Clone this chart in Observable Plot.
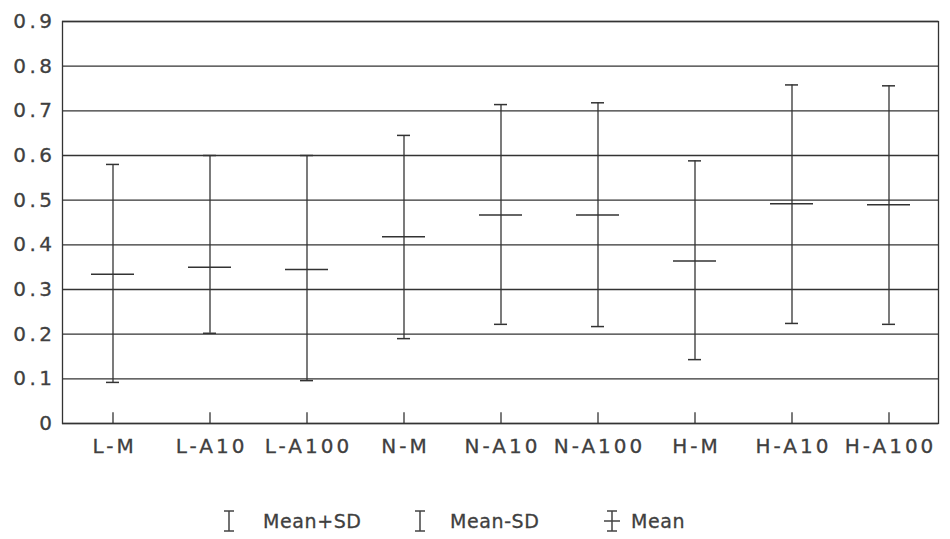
<!DOCTYPE html>
<html>
<head>
<meta charset="utf-8">
<script src="https://cdn.jsdelivr.net/npm/d3@7"></script>
<script src="https://cdn.jsdelivr.net/npm/@observablehq/plot@0.6"></script>
<style>
  body { margin: 0; background: #fff; }
  #wrap { position: relative; width: 950px; height: 539px; font-family: "DejaVu Sans", sans-serif; }
  #legend { position: absolute; left: 0; top: 505px; width: 950px; height: 32px; color: #404040; font-size: 19px; letter-spacing: 0.6px; -webkit-text-stroke: 0.3px #404040; }
  .item { position: absolute; top: 0; display: flex; align-items: center; height: 32px; }
  #chart svg text { stroke: #404040; stroke-width: 0.3px; }
  #chart g[aria-label="y-axis tick label"] { letter-spacing: 3.5px; }
  #chart g[aria-label="x-axis tick label"] { letter-spacing: 3px; }
</style>
</head>
<body>
<div id="wrap"><div id="chart"></div>
<div id="legend">
  <div class="item" style="left:222px"><svg width="14" height="26" style="margin-right:27px"><path d="M2,3H12M7,3V23M2,23H12" stroke="#444" stroke-width="1.5" fill="none"/></svg>Mean+SD</div>
  <div class="item" style="left:413px"><svg width="14" height="26" style="margin-right:23px"><path d="M2,3H12M7,3V23M2,23H12" stroke="#444" stroke-width="1.5" fill="none"/></svg>Mean-SD</div>
  <div class="item" style="left:603px"><svg width="18" height="26" style="margin-right:10px"><path d="M4,3H14M9,3V23M4,23H14M1,13H17" stroke="#444" stroke-width="1.5" fill="none"/></svg>Mean</div>
</div>
</div>
<script>
const categories = ["L-M", "L-A10", "L-A100", "N-M", "N-A10", "N-A100", "H-M", "H-A10", "H-A100"];
const meanPlusSD  = [0.580, 0.600, 0.600, 0.645, 0.714, 0.718, 0.588, 0.758, 0.756];
const meanValues  = [0.334, 0.350, 0.345, 0.418, 0.467, 0.467, 0.364, 0.492, 0.490];
const meanMinusSD = [0.092, 0.202, 0.096, 0.190, 0.222, 0.217, 0.143, 0.224, 0.222];
const yTicks = [0, 0.1, 0.2, 0.3, 0.4, 0.5, 0.6, 0.7, 0.8, 0.9];

const data = categories.map((c, i) => ({cat: c, hi: meanPlusSD[i], mean: meanValues[i], lo: meanMinusSD[i]}));
const ink = "#333";

const chart = Plot.plot({
  width: 950,
  height: 470,
  marginLeft: 62,
  marginRight: 12,
  marginTop: 21,
  marginBottom: 47,
  style: {fontFamily: "DejaVu Sans, sans-serif", fontSize: "20px", color: "#404040", background: "#fff"},
  x: {domain: categories, padding: 0, label: null},
  y: {domain: [0, 0.9], label: null},
  marks: [
    Plot.gridY(yTicks, {stroke: ink, strokeOpacity: 1, strokeWidth: 1.3}),
    Plot.frame({stroke: ink, strokeWidth: 1.3}),
    Plot.axisY(yTicks, {tickSize: 0, tickPadding: 7, tickFormat: d => String(+d.toFixed(1)), fill: "#404040", label: null}),
    Plot.axisX({tickSize: 0, tickPadding: 15, dx: 1.5, fill: "#404040", label: null}),
    Plot.ruleX(categories, {x: d => d, y1: 0, y2: 0.024, stroke: ink, strokeWidth: 1.3}),
    Plot.ruleX(data, {x: "cat", y1: "lo", y2: "hi", stroke: ink, strokeWidth: 1.3}),
    Plot.tickY(data, {x: "cat", y: "hi", inset: 42, stroke: ink, strokeWidth: 1.5}),
    Plot.tickY(data, {x: "cat", y: "lo", inset: 42, stroke: ink, strokeWidth: 1.5}),
    Plot.tickY(data, {x: "cat", y: "mean", inset: 27, stroke: ink, strokeWidth: 1.5})
  ]
});
document.getElementById("chart").appendChild(chart);
</script>
</body>
</html>
